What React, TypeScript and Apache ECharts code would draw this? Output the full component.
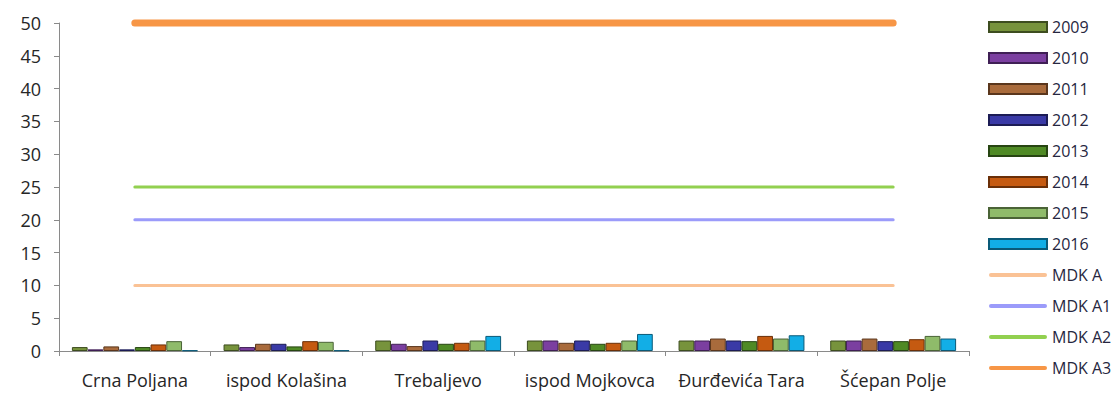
import React, { useEffect, useRef } from "react";
import * as echarts from "echarts";

const categories = ["Crna Poljana", "ispod Kolašina", "Trebaljevo", "ispod Mojkovca", "Đurđevića Tara", "Šćepan Polje"];
const years = ["2009", "2010", "2011", "2012", "2013", "2014", "2015", "2016"];
const v2009 = [0.6, 1.0, 1.6, 1.6, 1.6, 1.6];
const v2010 = [0.25, 0.6, 1.1, 1.6, 1.6, 1.6];
const v2011 = [0.7, 1.1, 0.75, 1.25, 1.9, 1.9];
const v2012 = [0.25, 1.1, 1.6, 1.6, 1.6, 1.5];
const v2013 = [0.6, 0.7, 1.1, 1.1, 1.5, 1.5];
const v2014 = [1.0, 1.5, 1.25, 1.25, 2.3, 1.8];
const v2015 = [1.5, 1.4, 1.6, 1.6, 1.9, 2.3];
const v2016 = [0.1, 0.1, 2.3, 2.6, 2.4, 1.9];
const yearValues = [v2009, v2010, v2011, v2012, v2013, v2014, v2015, v2016];
const limitNames = ["MDK A", "MDK A1", "MDK A2", "MDK A3"];
const limitValues = [10, 20, 25, 50];
const yTicks = [0, 50, 5];

const barColors = ["#77933c", "#7b3fa0", "#a96b3c", "#3a3aa6", "#4f8a25", "#c55a11", "#8fbb6a", "#12aee6"];
const barBorders = ["#3d4d1f", "#3f1f55", "#5a361c", "#1c1c55", "#274512", "#6a2f08", "#4a6336", "#0a5a78"];
const lineColors = ["#fac295", "#9b9bfa", "#92d050", "#f79646"];
const lineWidths = [3, 3, 3, 7];
const lineIcon = "path://M2,0 L56,0 A2,2 0 0 1 56,4 L2,4 A2,2 0 0 1 2,0 Z";

export default function App() {
  const ref = useRef<HTMLDivElement>(null);
  useEffect(() => {
    const chart = echarts.init(ref.current!, undefined, { renderer: "svg" });
    const font = "Open Sans";
    const barSeries = years.map((y, i) => ({
      name: y,
      type: "bar",
      data: yearValues[i],
      barGap: "0%",
      barCategoryGap: "17%",
      itemStyle: { color: barColors[i], borderColor: barBorders[i], borderWidth: 1 },
    }));
    const lineSeries = limitNames.map((n, i) => ({
      name: n,
      type: "line",
      data: categories.map(() => limitValues[i]),
      symbol: "none",
      clip: false,
      z: 5,
      lineStyle: { color: lineColors[i], width: lineWidths[i], cap: "round" },
      itemStyle: { color: lineColors[i] },
    }));
    chart.setOption({
      animation: false,
      textStyle: { fontFamily: font },
      grid: { left: 59, top: 23, right: 143, bottom: 52 },
      legend: {
        orient: "vertical",
        left: 983,
        top: 14,
        itemWidth: 58,
        itemHeight: 10,
        itemGap: 15,
        textStyle: { fontSize: 16, color: "#262640", fontFamily: font },
        data: [
          ...years.map((y) => ({ name: y, icon: "rect" })),
          ...limitNames.map((n, i) => ({
            name: n,
            icon: lineIcon,
            itemStyle: { color: lineColors[i], borderWidth: 0 },
          })),
        ],
      },
      xAxis: {
        type: "category",
        data: categories,
        axisLine: { lineStyle: { color: "#8a8a8a", width: 1 } },
        axisTick: { show: true, interval: 0, length: 5, lineStyle: { color: "#8a8a8a" } },
        axisLabel: {
          interval: 0,
          hideOverlap: false,
          fontSize: 18,
          color: "#262626",
          margin: 20,
          fontFamily: font,
        },
      },
      yAxis: {
        type: "value",
        min: yTicks[0],
        max: yTicks[1],
        interval: yTicks[2],
        splitLine: { show: false },
        axisLine: { show: true, lineStyle: { color: "#8a8a8a", width: 1 } },
        axisTick: { show: true, length: 5, lineStyle: { color: "#8a8a8a" } },
        axisLabel: { fontSize: 18, color: "#262626", margin: 18, fontFamily: font },
      },
      series: [...barSeries, ...lineSeries],
    });
    return () => chart.dispose();
  }, []);
  return (
    <div
      ref={ref}
      style={{ position: "fixed", left: 0, top: 0, width: 1112, height: 403, background: "#fff" }}
    />
  );
}
